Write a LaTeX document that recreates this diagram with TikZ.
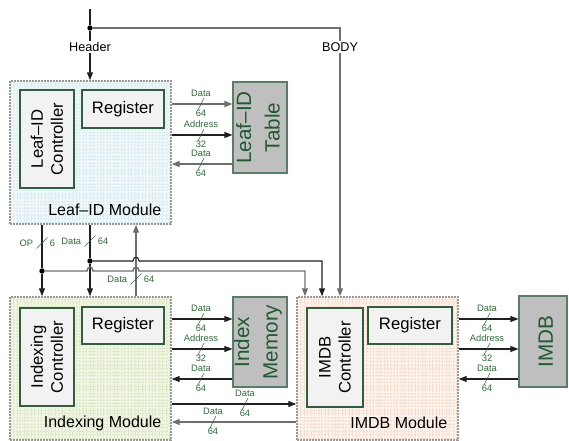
\documentclass[tikz,border=0pt]{standalone}
\usepackage{fontspec}
\setmainfont{Liberation Sans}
\usetikzlibrary{arrows.meta,fit}
\definecolor{labc}{HTML}{2F6B3A}
\definecolor{boxedge}{HTML}{2E5E3E}
\definecolor{memtxt}{HTML}{1E5A32}
\definecolor{leafbg}{HTML}{F0F8FA}
\definecolor{leafgr}{HTML}{D8ECF2}
\definecolor{idxbg}{HTML}{F1F6E4}
\definecolor{idxgr}{HTML}{DCE7C6}
\definecolor{imdbbg}{HTML}{FEF4EE}
\definecolor{imdbgr}{HTML}{F7DDCD}
\definecolor{lineg}{HTML}{6E6E6E}
\definecolor{lined}{HTML}{202020}
\tikzset{
  module/.style={draw=gray!80, line width=1.1pt, dash pattern=on 1.5pt off 0.75pt, inner sep=0pt},
  inbox/.style={draw=boxedge, fill=black!5, line width=0.8pt, inner sep=0pt},
  membox/.style={draw=boxedge!80, fill=black!25, line width=0.8pt, inner sep=0pt},
  rtext/.style={rotate=90, align=center, font=\fontsize{12.5}{15}\selectfont},
  regtext/.style={font=\fontsize{12.5}{15}\selectfont},
  memtext/.style={rotate=90, align=center, text=memtxt, font=\fontsize{15.5}{21.5}\selectfont},
  modlbl/.style={anchor=east, font=\fontsize{12}{14}\selectfont},
  lbl/.style={text=labc, font=\fontsize{7}{8}\selectfont, inner sep=0.5pt},
  hdr/.style={fill=white, inner sep=1pt, font=\fontsize{9.5}{11}\selectfont},
  dline/.style={draw=lined, line width=0.8pt},
  gline/.style={draw=lineg, line width=1.1pt},
  dot/.style={circle, fill=black, inner sep=0pt, minimum size=4pt},
  slashl/.style={draw=labc, line width=0.5pt},
}
\newcommand\gridpic[1]{\draw[#1, line width=0.2pt, step=2.6pt] (path picture bounding box.south west) grid (path picture bounding box.north east);}
% horizontal bus mark: name, x, y, top text, bottom text
\newcommand\hlab[5]{%
  \draw[slashl] (#2-3,#3+6) -- (#2+3,#3-6);
  \node[lbl] (#1t) at (#2,#3-11) {#4};
  \node[lbl] (#1b) at (#2,#3+9) {#5};}
% vertical bus mark: name, x, y, left text, right text
\newcommand\vlab[5]{%
  \draw[slashl] (#2-5.5,#3+5.5) -- (#2+5.5,#3-5.5);
  \node[lbl, anchor=east] (#1l) at (#2-8,#3) {#4};
  \node[lbl, anchor=west] (#1r) at (#2+7,#3) {#5};}
\begin{document}
\begin{tikzpicture}[x=0.75pt, y=-0.75pt, >={Triangle[length=6pt,width=4.5pt]}]
\useasboundingbox (0,0) rectangle (569,441);

% named coordinates for rows and columns
\coordinate (r1) at (0,104);
\coordinate (r2) at (0,135);
\coordinate (r3) at (0,164);
\coordinate (s1) at (0,319);
\coordinate (s2) at (0,349);
\coordinate (s3) at (0,379);
\coordinate (s4) at (0,404);
\coordinate (s5) at (0,422);
\coordinate (xop) at (42,0);
\coordinate (xd) at (90,0);
\coordinate (xu) at (136,0);
\coordinate (xa) at (305,0);
\coordinate (xb) at (322,0);

% modules
\node[module, fill=leafbg, path picture={\gridpic{leafgr}}, fit={(10,81) (171,224)}] (leaf) {};
\node[module, fill=idxbg, path picture={\gridpic{idxgr}}, fit={(10,297) (171,440)}] (idx) {};
\node[module, fill=imdbbg, path picture={\gridpic{imdbgr}}, fit={(297,297) (458,440)}] (imdb) {};

\node[modlbl] (leafname) at (166,210) {Leaf–ID Module};
\node[modlbl] (idxname) at (166,423) {Indexing Module};
\node[modlbl] (imdbname) at (452,423) {IMDB Module};

% inner boxes
\node[inbox, fit={(20,90) (74,188)}] (leafctl) {};
\node[rtext] (leafctltx) at (leafctl.center) {Leaf–ID\\Controller};
\node[inbox, fit={(82,90) (164,128)}] (leafreg) {};
\node[regtext] (leafregtx) at (leafreg.center) {Register};

\node[inbox, fit={(20,308) (74,406)}] (idxctl) {};
\node[rtext] (idxctltx) at (idxctl.center) {Indexing\\Controller};
\node[inbox, fit={(82,307) (164,344)}] (idxreg) {};
\node[regtext] (idxregtx) at (idxreg.center) {Register};

\node[inbox, fit={(307,308) (363,407)}] (imdbctl) {};
\node[rtext] (imdbctltx) at (imdbctl.center) {IMDB\\Controller};
\node[inbox, fit={(368,307) (452,344)}] (imdbreg) {};
\node[regtext] (imdbregtx) at (imdbreg.center) {Register};

% memories
\node[membox, fit={(233,82) (287,173)}] (ltab) {};
\node[memtext] (ltabtx) at ([xshift=-1.5pt]ltab.center) {Leaf–ID\\Table};
\node[membox, fit={(233,297) (287,387)}] (imem) {};
\node[memtext] (imemtx) at ([xshift=-1.5pt]imem.center) {Index\\Memory};
\node[membox, fit={(519,296) (567,387)}] (mdb) {};
\node[memtext] (mdbtx) at ([xshift=2pt]mdb.center) {IMDB};

% top input
\coordinate (in) at (90,9);
\node[dot] (d0) at (90,28) {};
\node[hdr] (header) at (90,47) {Header};
\node[hdr] (body) at (340,47) {BODY};
\draw[dline] (in) -- (d0);
\draw[dline] (d0) -- (header);
\draw[dline,->] (header) -- (header |- leaf.north);
\draw[gline] (d0) -| (body);
\draw[gline,->] (body) -- (body |- imdb.north);

% Leaf-ID <-> table
\draw[gline,->] (leaf.east |- r1) -- (ltab.west |- r1);
\draw[dline,->] (leaf.east |- r2) -- (ltab.west |- r2);
\draw[gline,->] (ltab.west |- r3) -- (leaf.east |- r3);
\hlab{la}{201}{104}{Data}{64}
\hlab{lb}{201}{135}{Address}{32}
\hlab{lc}{201}{164}{Data}{64}

% Indexing <-> memory
\draw[dline,->] (idx.east |- s1) -- (imem.west |- s1);
\draw[dline,->] (idx.east |- s2) -- (imem.west |- s2);
\draw[dline,->] (imem.west |- s3) -- (idx.east |- s3);
\hlab{ia}{201}{319}{Data}{64}
\hlab{ib}{201}{349}{Address}{32}
\hlab{ic}{201}{379}{Data}{64}

% IMDB <-> IMDB memory
\draw[dline,->] (imdb.east |- s1) -- (mdb.west |- s1);
\draw[dline,->] (imdb.east |- s2) -- (mdb.west |- s2);
\draw[dline,->] (mdb.west |- s3) -- (imdb.east |- s3);
\hlab{ma}{487}{319}{Data}{64}
\hlab{mb}{487}{349}{Address}{32}
\hlab{mc}{487}{379}{Data}{64}

% Indexing <-> IMDB
\draw[dline,->] (idx.east |- s4) -- (imdb.west |- s4);
\draw[gline,->] (imdb.west |- s5) -- (idx.east |- s5);
\hlab{xa}{245}{404}{Data}{64}
\hlab{xb}{213}{422}{Data}{64}

% Leaf-ID -> Indexing / IMDB
\node[dot] (d1) at (42,271) {};
\node[dot] (d2) at (90,261) {};
\draw[dline] (leaf.south -| xop) -- (d1);
\draw[dline,->] (d1) -- (d1 |- idx.north);
\draw[dline] (leaf.south -| xd) -- (d2);
\draw[dline,->] (d2) -- (d2 |- idx.north);
\draw[gline,->] (idx.north -| xu) -- (leaf.south -| xu);
% black line with hop over the upward bus
\draw[dline,->] (d2) -- (133,261) .. controls (133,256) and (139,256) .. (139,261)
   -- (xb |- d2) -- (xb |- imdb.north);
% gray line with hops
\draw[gline,->] (d1) -- (87,271) .. controls (87,266) and (93,266) .. (93,271)
   -- (133,271) .. controls (133,266) and (139,266) .. (139,271)
   -- (xa |- d1) -- (xa |- imdb.north);
\vlab{op}{42}{243}{OP}{6}
\vlab{dd}{90}{241}{Data}{64}
\vlab{du}{136}{279}{Data}{64}
\end{tikzpicture}
\end{document}
